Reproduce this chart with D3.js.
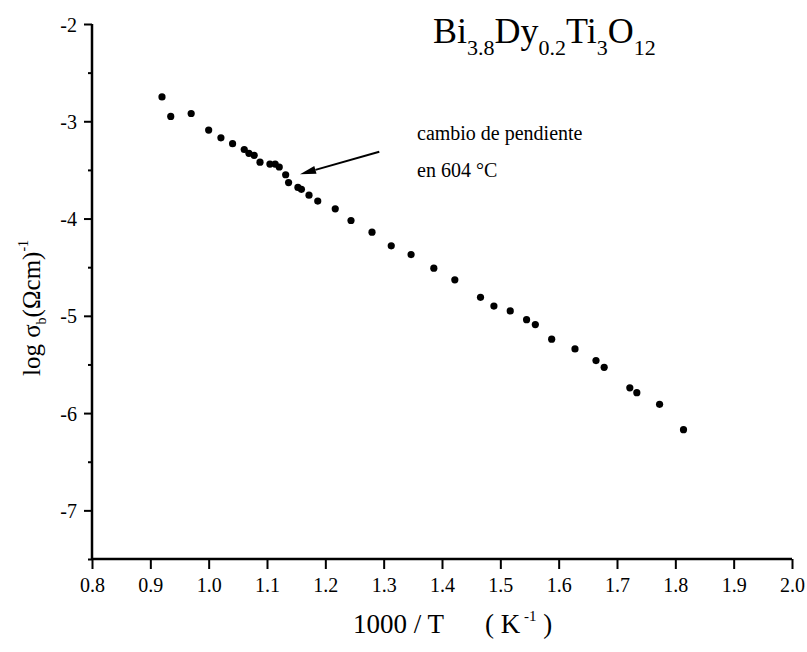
<!DOCTYPE html>
<html>
<head>
<meta charset="utf-8">
<script src="https://cdn.jsdelivr.net/npm/d3@7"></script>
<style>
  body { margin: 0; background: #fff; }
  svg text { font-family: "Liberation Serif", "Times New Roman", "DejaVu Serif", serif !important; fill: #000; }
</style>
</head>
<body>
<div class="graph"></div>
<script>
/*---------- DATA ----------*/

// 1000/T (K^-1)
const invT = [0.920, 0.935, 0.970, 1.000, 1.021, 1.041, 1.061, 1.069, 1.078, 1.088,
              1.105, 1.114, 1.121, 1.132, 1.137, 1.153, 1.159, 1.172, 1.187, 1.217,
              1.244, 1.280, 1.313, 1.347, 1.386, 1.422, 1.466, 1.489, 1.517, 1.545,
              1.560, 1.588, 1.628, 1.664, 1.678, 1.722, 1.734, 1.773, 1.814];

// log sigma_b (ohm cm)^-1
const logSigma = [-2.75, -2.95, -2.92, -3.09, -3.17, -3.23, -3.29, -3.33, -3.35, -3.42,
                  -3.44, -3.44, -3.47, -3.55, -3.63, -3.68, -3.70, -3.76, -3.82, -3.90,
                  -4.02, -4.14, -4.28, -4.37, -4.51, -4.63, -4.81, -4.90, -4.95, -5.04,
                  -5.09, -5.24, -5.34, -5.46, -5.53, -5.74, -5.79, -5.91, -6.17];

const xTicks = [0.8, 0.9, 1.0, 1.1, 1.2, 1.3, 1.4, 1.5, 1.6, 1.7, 1.8, 1.9, 2.0];
const yTicks = [-2, -3, -4, -5, -6, -7];
const yMinor = [-2.5, -3.5, -4.5, -5.5, -6.5, -7.5];

// arrow pointing at the slope change, in data units
const arrowFrom = [1.2925, -3.313];
const arrowTo = [1.1566, -3.545];

/*---------- D3 STUFF ----------*/

const SERIF = "'Liberation Serif', 'Times New Roman', 'DejaVu Serif', serif";
const SIZE = {X: 807, Y: 652};
const MARGIN = {TOP: 24, BOTTOM: 93, LEFT: 92, RIGHT: 15};
const DIM = {WIDTH: SIZE.X - MARGIN.LEFT - MARGIN.RIGHT,
             HEIGHT: SIZE.Y - MARGIN.TOP - MARGIN.BOTTOM};

const svg = d3.select(".graph").append("svg")
    .attr("width", SIZE.X)
    .attr("height", SIZE.Y)
    .attr("font-family", SERIF);

const graph = svg.append("g")
    .attr("transform", `translate(${MARGIN.LEFT}, ${MARGIN.TOP})`);

const x = d3.scaleLinear().domain([0.8, 2.0]).range([0, DIM.WIDTH]);
const y = d3.scaleLinear().domain([-7.5, -2]).range([DIM.HEIGHT, 0]);

//axes
const xAxis = graph.append("g")
    .attr("transform", `translate(0, ${DIM.HEIGHT})`)
    .call(d3.axisBottom(x).tickValues(xTicks).tickFormat(d3.format(".1f"))
        .tickSize(10).tickPadding(9));

const yAxis = graph.append("g")
    .call(d3.axisLeft(y).tickValues(yTicks).tickFormat(d => d)
        .tickSize(8).tickPadding(7));

const yMinorAxis = graph.append("g")
    .call(d3.axisLeft(y).tickValues(yMinor).tickFormat("").tickSize(4));
yMinorAxis.select(".domain").remove();

graph.selectAll("g").attr("font-family", SERIF);

graph.selectAll(".domain")
    .attr("stroke", "#000")
    .attr("stroke-width", 2.5);

xAxis.select(".domain").attr("d", `M0,0H${DIM.WIDTH}`);
yAxis.select(".domain").attr("d", `M0,${DIM.HEIGHT}V0`);

graph.selectAll(".tick line")
    .attr("stroke", "#000")
    .attr("stroke-width", 2);

xAxis.selectAll("text")
    .attr("font-size", 20);

yAxis.selectAll("text")
    .attr("font-size", 20)
    .attr("dy", "0.35em");

//points
graph.selectAll("circle")
    .data(invT)
    .enter()
    .append("circle")
        .attr("cx", d => x(d))
        .attr("cy", (d, i) => y(logSigma[i]))
        .attr("r", 3.6)
        .attr("fill", "#000");

//arrow
const ax0 = x(arrowFrom[0]), ay0 = y(arrowFrom[1]);
const ax1 = x(arrowTo[0]), ay1 = y(arrowTo[1]);
const ang = Math.atan2(ay1 - ay0, ax1 - ax0);
const headLen = 16, headW = 4;
const bx = ax1 - headLen * Math.cos(ang), by = ay1 - headLen * Math.sin(ang);

graph.append("line")
    .attr("x1", ax0).attr("y1", ay0)
    .attr("x2", bx).attr("y2", by)
    .attr("stroke", "#000")
    .attr("stroke-width", 2);

graph.append("path")
    .attr("d", `M${ax1},${ay1}L${bx + headW * Math.sin(ang)},${by - headW * Math.cos(ang)}` +
               `L${bx - headW * Math.sin(ang)},${by + headW * Math.cos(ang)}Z`)
    .attr("fill", "#000");

//annotation
const note = graph.append("text")
    .attr("x", 417 - MARGIN.LEFT)
    .attr("y", 140 - MARGIN.TOP)
    .attr("font-size", 20);
note.append("tspan").text("cambio de pendiente");
note.append("tspan").attr("x", 417 - MARGIN.LEFT).attr("dy", 37).text("en 604 °C");

//title (chemical formula)
const title = svg.append("text")
    .attr("x", 433)
    .attr("y", 43)
    .attr("font-size", 36);
const parts = [["Bi", false], ["3.8", true], ["Dy", false], ["0.2", true],
               ["Ti", false], ["3", true], ["O", false], ["12", true]];
parts.forEach(([t, sub], i) => {
    const prevSub = i > 0 && parts[i - 1][1];
    title.append("tspan")
        .attr("dy", sub ? 12 : (prevSub ? -12 : 0))
        .attr("font-size", sub ? 22 : 36)
        .text(t);
});

//y label
const ylab = svg.append("text")
    .attr("transform", "translate(40, 308) rotate(-90)")
    .attr("text-anchor", "middle")
    .attr("font-size", 25);
ylab.append("tspan").text("log σ");
ylab.append("tspan").attr("dy", 6).attr("font-size", 14).text("b");
ylab.append("tspan").attr("dy", -6).text("(Ωcm)");
ylab.append("tspan").attr("dy", -12).attr("font-size", 14).text("-1");

//x label
svg.append("text")
    .attr("x", 353)
    .attr("y", 633)
    .attr("font-size", 27)
    .text("1000 / T");

const xlab2 = svg.append("text")
    .attr("x", 485)
    .attr("y", 633)
    .attr("font-size", 27);
xlab2.append("tspan").text("( K");
xlab2.append("tspan").attr("dy", -12).attr("font-size", 15).text(" -1");
xlab2.append("tspan").attr("dy", 12).text(" )");
</script>
</body>
</html>
